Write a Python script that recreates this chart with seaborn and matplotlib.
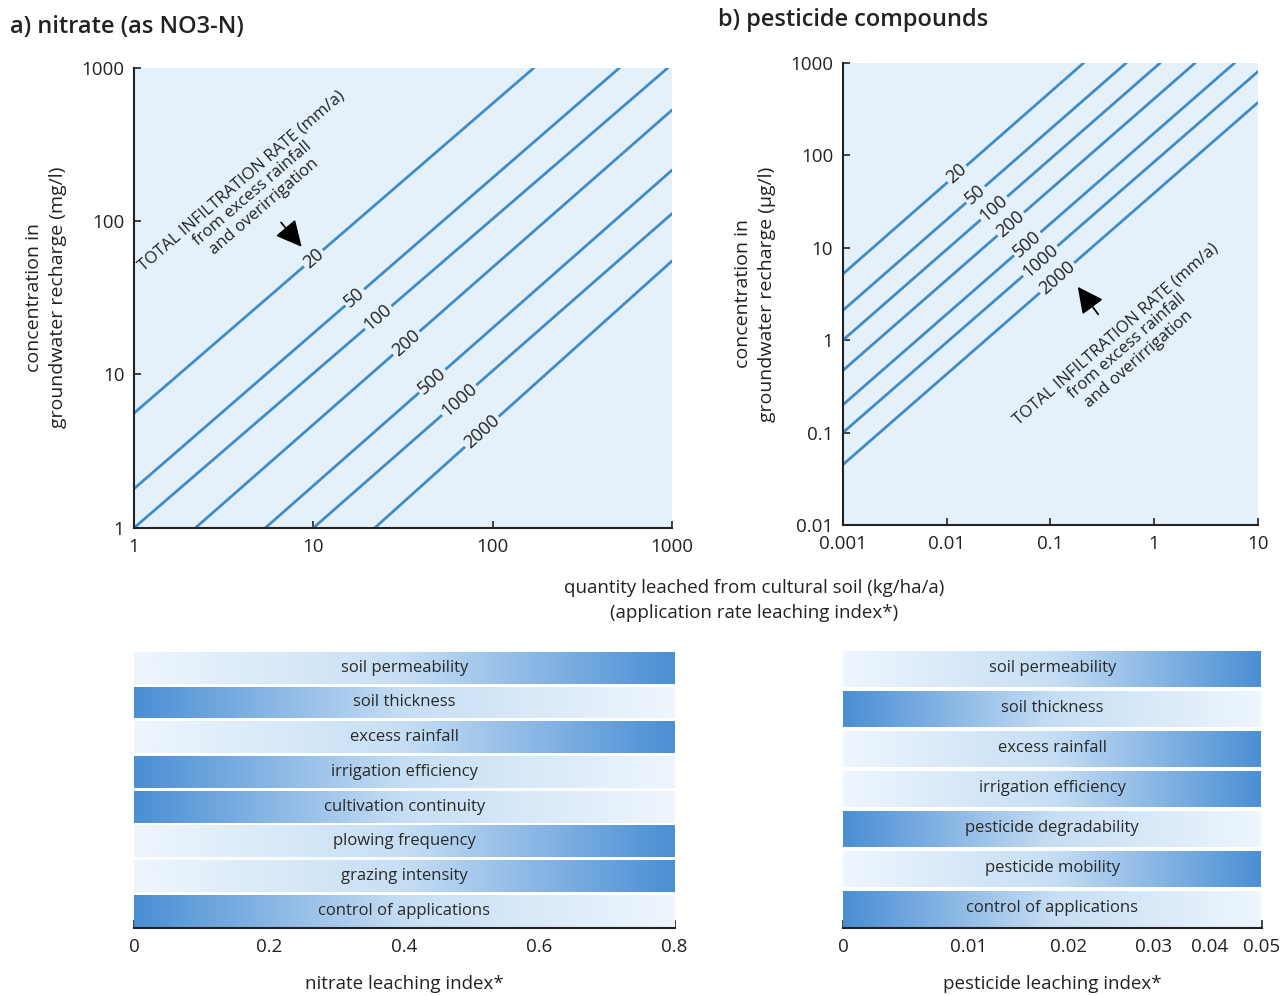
import numpy as np
import pandas as pd
import matplotlib
matplotlib.use('Agg')
import matplotlib.pyplot as plt
import matplotlib.transforms as mtransforms
from matplotlib.colors import LinearSegmentedColormap
from matplotlib.ticker import FixedLocator, FixedFormatter, NullLocator
import seaborn as sns

# infiltration rate (mm/a) of each line
rates = [20, 50, 100, 200, 500, 1000, 2000]

# a) nitrate: end points of each line (kg/ha/a -> mg/l)
nitrate_q_start = [1, 1, 1, 2.2, 5.4, 10, 22]
nitrate_c_start = [5.6, 1.8, 1, 1, 1, 1, 1]
nitrate_q_end = [170, 510, 950, 1000, 1000, 1000, 1000]
nitrate_c_end = [1000, 1000, 1000, 530, 215, 112, 55]
nitrate_label_q = [10, 17, 23, 33, 46, 65, 87]

# b) pesticides: end points (kg/ha/a -> ug/l)
pest_q_start = [0.001, 0.001, 0.001, 0.001, 0.001, 0.001, 0.001]
pest_c_start = [5.2, 2.1, 1.0, 0.47, 0.2, 0.1, 0.045]
pest_q_end = [0.21, 0.54, 1.15, 2.5, 6, 10, 10]
pest_c_end = [1000, 1000, 1000, 1000, 1000, 800, 370]
pest_label_q = [0.0126, 0.019, 0.0286, 0.0416, 0.06, 0.08, 0.116]

# leaching index factors, +1 = shading darkens to the right, -1 = to the left
nitrate_factors = ['soil permeability', 'soil thickness', 'excess rainfall',
                   'irrigation efficiency', 'cultivation continuity',
                   'plowing frequency', 'grazing intensity', 'control of applications']
nitrate_trend = [1, -1, 1, -1, -1, 1, 1, -1]
nitrate_ticks = [0, 0.2, 0.4, 0.6, 0.8]

pest_factors = ['soil permeability', 'soil thickness', 'excess rainfall',
                'irrigation efficiency', 'pesticide degradability',
                'pesticide mobility', 'control of applications']
pest_trend = [1, -1, 1, 1, -1, 1, -1]
pest_ticks = [0, 0.01, 0.02, 0.03, 0.04, 0.05]
pest_tick_frac = [0, 0.30, 0.538, 0.742, 0.875, 1.0]  # irregular scale of the original

bg = '#e4f1fa'
line_color = '#3f8ccb'
ink = '#222222'
band_cmap = LinearSegmentedColormap.from_list('band', ['#eef6fd', '#c6def4', '#4a8ed4'])
note = 'TOTAL INFILTRATION RATE (mm/a)\nfrom excess rainfall\nand overirrigation'

sns.set_style('ticks')
plt.rcParams['font.family'] = ['Open Sans', 'DejaVu Sans']
plt.rcParams['text.color'] = ink
plt.rcParams['axes.labelcolor'] = ink
plt.rcParams['xtick.color'] = ink
plt.rcParams['ytick.color'] = ink

fig = plt.figure(figsize=(12.84, 9.96), dpi=100)
ax_a = fig.add_axes([0.1044, 0.470, 0.419, 0.462])
ax_b = fig.add_axes([0.6565, 0.4729, 0.323, 0.464])
bar_a = fig.add_axes([0.1044, 0.068, 0.421, 0.279])
bar_b = fig.add_axes([0.6565, 0.068, 0.326, 0.281])


def on_line(q, q0, c0, q1, c1):
    t = (np.log10(q) - np.log10(q0)) / (np.log10(q1) - np.log10(q0))
    return 10 ** (np.log10(c0) + t * (np.log10(c1) - np.log10(c0)))


def loglog_panel(ax, q0, c0, q1, c1, label_q, xlim, ylim, ylabel):
    ax.set_facecolor(bg)
    ax.set_xscale('log')
    ax.set_yscale('log')
    df = pd.DataFrame({'rate': rates * 2, 'q': q0 + q1, 'c': c0 + c1})
    sns.lineplot(data=df, x='q', y='c', units='rate', estimator=None,
                 color=line_color, lw=2, ax=ax)
    ax.set_xlim(*xlim)
    ax.set_ylim(*ylim)
    xt = [10.0 ** k for k in range(int(np.log10(xlim[0])), int(np.log10(xlim[1])) + 1)]
    yt = [10.0 ** k for k in range(int(round(np.log10(ylim[0]))), int(np.log10(ylim[1])) + 1)]
    ax.xaxis.set_major_locator(FixedLocator(xt))
    ax.xaxis.set_major_formatter(FixedFormatter([f'{v:g}' for v in xt]))
    ax.yaxis.set_major_locator(FixedLocator(yt))
    ax.yaxis.set_major_formatter(FixedFormatter([f'{v:g}' for v in yt]))
    ax.xaxis.set_minor_locator(NullLocator())
    ax.yaxis.set_minor_locator(NullLocator())
    ax.tick_params(direction='in', length=5, width=1.2, labelsize=13.5, pad=7)
    sns.despine(ax=ax)
    for s in ['left', 'bottom']:
        ax.spines[s].set_color(ink)
        ax.spines[s].set_linewidth(1.5)
    ax.set_xlabel('')
    ax.set_ylabel(ylabel, fontsize=14, labelpad=10, linespacing=1.45)
    # line labels, rotated along each line
    for i, r in enumerate(rates):
        p0 = ax.transData.transform((q0[i], c0[i]))
        p1 = ax.transData.transform((q1[i], c1[i]))
        ang = np.degrees(np.arctan2(p1[1] - p0[1], p1[0] - p0[0]))
        lq = label_q[i]
        ax.text(lq, on_line(lq, q0[i], c0[i], q1[i], c1[i]), str(r), fontsize=13,
                rotation=ang, rotation_mode='anchor', ha='center', va='center',
                bbox=dict(boxstyle='square,pad=0.12', fc=bg, ec='none'), zorder=4)
    p0 = ax.transData.transform((q0[0], c0[0]))
    p1 = ax.transData.transform((q1[0], c1[0]))
    return np.degrees(np.arctan2(p1[1] - p0[1], p1[0] - p0[0]))


ang_a = loglog_panel(ax_a, nitrate_q_start, nitrate_c_start, nitrate_q_end, nitrate_c_end,
                     nitrate_label_q, (1, 1000), (1, 1000),
                     'concentration in\ngroundwater recharge (mg/l)')
ang_b = loglog_panel(ax_b, pest_q_start, pest_c_start, pest_q_end, pest_c_end,
                     pest_label_q, (0.001, 10), (0.01, 1000),
                     'concentration in\ngroundwater recharge (µg/l)')

arrow = dict(arrowstyle='-|>,head_length=0.8,head_width=0.4', color='black',
             lw=1.2, mutation_scale=20, shrinkA=0, shrinkB=0)
ax_a.text(4.6, 150, note, fontsize=12, rotation=ang_a, rotation_mode='anchor',
          ha='center', va='center', multialignment='center', linespacing=1.1)
ax_a.annotate('', xy=(8.6, 68), xytext=(6.6, 98), arrowprops=arrow)
ax_b.text(0.55, 0.85, note, fontsize=12, rotation=ang_b, rotation_mode='anchor',
          ha='center', va='center', multialignment='center', linespacing=1.1)
ax_b.annotate('', xy=(0.184, 3.77), xytext=(0.29, 1.9), arrowprops=arrow)


def band_panel(ax, factors, trend, ticks, xmax, xlabel):
    sns.barplot(x=[xmax] * len(factors), y=factors, orient='h', color='white',
                width=0.92, errorbar=None, ax=ax)
    for p in ax.patches:
        p.set_edgecolor('none')
        p.set_facecolor('none')
    ax.set_xlim(0, xmax)
    ax.set_ylim(len(factors) - 0.5, -0.5)
    ax.set_autoscale_on(False)
    blend = mtransforms.blended_transform_factory(ax.transAxes, ax.transData)
    to_axes = ax.transAxes.inverted()
    ramp = np.linspace(0, 1, 256).reshape(1, -1)
    for p, t in zip(ax.patches, trend):
        x0, y0 = p.get_x(), p.get_y()
        x1, y1 = x0 + p.get_width(), y0 + p.get_height()
        a0 = to_axes.transform(ax.transData.transform((x0, y0)))[0]
        a1 = to_axes.transform(ax.transData.transform((x1, y0)))[0]
        img = ramp if t > 0 else ramp[:, ::-1]
        im = ax.imshow(img, cmap=band_cmap, vmin=0, vmax=1, aspect='auto',
                       extent=[a0, a1, y1, y0], transform=blend,
                       interpolation='bilinear', zorder=2)
        im.set_clip_path(p)
    for i, f in enumerate(factors):
        ax.text(0.5, i, f, transform=blend, ha='center', va='center',
                fontsize=12, color='#2a2a2a', zorder=3)
    ax.xaxis.set_major_locator(FixedLocator(ticks))
    ax.xaxis.set_major_formatter(FixedFormatter([f'{v:g}' for v in ticks]))
    ax.xaxis.set_minor_locator(NullLocator())
    ax.set_yticks([])
    ax.set_ylabel('')
    ax.tick_params(axis='x', direction='in', length=6, width=1.2, labelsize=13.5, pad=7)
    sns.despine(ax=ax, left=True)
    ax.spines['bottom'].set_color(ink)
    ax.spines['bottom'].set_linewidth(1.5)
    ax.set_xlabel(xlabel, fontsize=13.5, labelpad=14)


band_panel(bar_a, nitrate_factors, nitrate_trend, nitrate_ticks, 0.8,
           'nitrate leaching index*')

bar_b.set_xscale('function', functions=(
    lambda v: np.interp(v, pest_ticks, pest_tick_frac),
    lambda v: np.interp(v, pest_tick_frac, pest_ticks)))
band_panel(bar_b, pest_factors, pest_trend, pest_ticks, 0.05,
           'pesticide leaching index*')

fig.text(0.008, 0.973, 'a) nitrate (as NO3-N)', fontsize=17, fontweight='semibold',
         ha='left', va='center')
fig.text(0.559, 0.980, 'b) pesticide compounds', fontsize=17, fontweight='semibold',
         ha='left', va='center')
fig.text(0.587, 0.397, 'quantity leached from cultural soil (kg/ha/a)\n'
         '(application rate leaching index*)', fontsize=13.5, ha='center',
         va='center', linespacing=1.5)

fig.savefig('out.png', dpi=100, facecolor='white')
